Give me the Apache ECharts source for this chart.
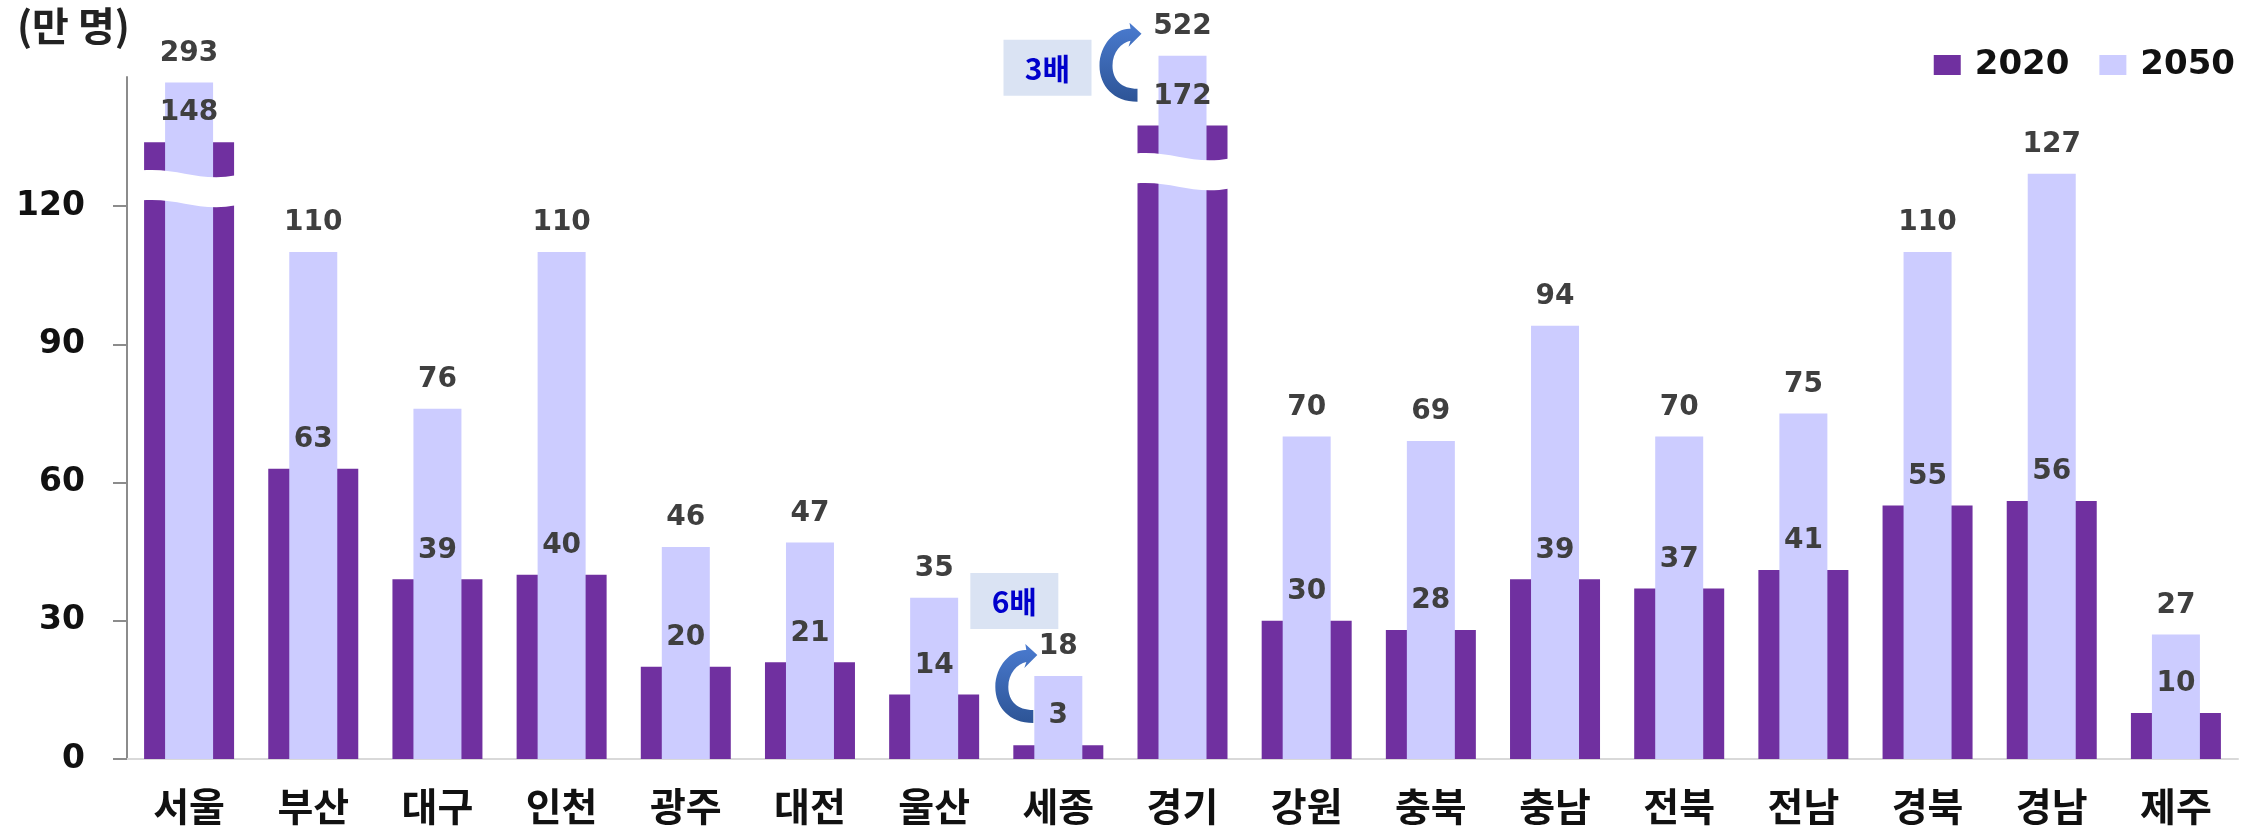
<!DOCTYPE html>
<html>
<head>
<meta charset="utf-8">
<script src="https://cdn.jsdelivr.net/npm/echarts@6/dist/echarts.min.js"></script>
<style>
  html, body { margin: 0; padding: 0; background: #fff; }
  #chart { width: 2267px; height: 827px; }
</style>
</head>
<body>
<div id="chart"></div>
<script>
// Regional population (unit: 10,000 people), 2020 vs 2050
const categories = ['서울', '부산', '대구', '인천', '광주', '대전', '울산', '세종', '경기',
                    '강원', '충북', '충남', '전북', '전남', '경북', '경남', '제주'];
const pop2020 = [148, 63, 39, 40, 20, 21, 14, 3, 172, 30, 28, 39, 37, 41, 55, 56, 10];
const pop2050 = [293, 110, 76, 110, 46, 47, 35, 18, 522, 70, 69, 94, 70, 75, 110, 127, 27];
const yTicks = [0, 30, 60, 90, 120];
const seriesNames = ['2020', '2050'];
const growthNotes = ['3배', '6배'];

// Values above the break are squeezed toward a ceiling (hyperbolic compression),
// and the bar is cut by a wavy white band to show the broken axis.
const BREAK_AT = 130;
const BREAK_CEIL = 160;
const BREAK_K = 3870;
function toAxis(v) {
  return v <= BREAK_AT ? v : BREAK_CEIL - BREAK_K / v;
}

const C2020 = '#7030A0';
const C2050 = '#CCCCFF';
const LABEL_GRAY = '#3f3f3f';
const NUM_FONT = '"DejaVu Sans", Verdana, sans-serif';
const KR_FONT = '"Noto Sans CJK KR", "Noto Sans", sans-serif';

// categories whose bars run past the break
const brokenIdx = categories.map((c, i) => i)
  .filter(i => Math.max(pop2020[i], pop2050[i]) > BREAK_AT);
const breakBands = brokenIdx.map(i => [i, toAxis(Math.min(pop2020[i], pop2050[i])) - 10]);

// growth notes: box and curved arrow placed next to the 2050 bar
const noteCats = [categories.indexOf('경기'), categories.indexOf('세종')];
const noteLayout = [
  { arrow: [-41, -22], box: [-179, -16] },
  { arrow: [-21, -21], box: [-88, -103] }
];

const chart = echarts.init(document.getElementById('chart'), null, { renderer: 'canvas' });

function wavePath(cx, cy, hw, half) {
  const l = cx - hw, r = cx + hw, w = 2 * hw;
  const t = cy - half, b = cy + half;
  return 'M' + l + ',' + (t - 3) +
    ' C' + (l + 0.4 * w) + ',' + (t - 6) + ' ' + (l + 0.6 * w) + ',' + (t + 9) + ' ' + r + ',' + (t + 2) +
    ' L' + r + ',' + (b + 2) +
    ' C' + (l + 0.6 * w) + ',' + (b + 9) + ' ' + (l + 0.4 * w) + ',' + (b - 6) + ' ' + l + ',' + (b - 3) +
    ' Z';
}

// curved arrow, tip at the local origin, pointing right
const ARROW_PATH = 'M0,0 L-12,-11 L-11,-5 C-25,-6 -42,10 -42,32 C-42,52 -28,68 -4,68 ' +
                   'L-4,55 C-20,55 -29,46 -29,32 C-29,18 -20,9 -11,7 L-13,13 Z';
const arrowFill = {
  type: 'linear', x: 0, y: 0, x2: 0, y2: 1,
  colorStops: [{ offset: 0, color: '#4A7BD0' }, { offset: 1, color: '#2D5496' }]
};

const valueLabel = {
  show: true, position: 'top', distance: 15, opacity: 1,
  fontFamily: NUM_FONT, fontWeight: 'bold', fontSize: 28, color: LABEL_GRAY,
  textBorderWidth: 0
};

const option = {
  animation: false,
  backgroundColor: '#ffffff',
  title: {
    text: '(만 명)', left: 12, top: 1,
    textStyle: { fontFamily: KR_FONT, fontWeight: 'bold', fontSize: 40, color: '#222' }
  },
  legend: {
    data: seriesNames, right: 27, top: 43,
    icon: 'rect', itemWidth: 27, itemHeight: 20, itemGap: 30,
    textStyle: { fontFamily: NUM_FONT, fontWeight: 'bold', fontSize: 34, color: '#111', padding: [0, 0, 0, 9] }
  },
  grid: { left: 127, right: 29, top: 77, bottom: 68 },
  xAxis: [
    {
      type: 'category', data: categories,
      axisLine: { lineStyle: { color: '#d9d9d9', width: 2 } },
      axisTick: { show: false },
      axisLabel: { fontFamily: KR_FONT, fontWeight: 'bold', fontSize: 39, color: '#111', margin: 28, interval: 0 }
    },
    { type: 'category', data: categories, show: false },
    { type: 'category', data: categories, show: false }
  ],
  yAxis: {
    type: 'value', min: 0, max: 148,
    splitLine: { show: false },
    axisLine: { show: true, lineStyle: { color: '#8c8c8c', width: 2 } },
    axisTick: { show: true, length: 14, customValues: yTicks, lineStyle: { color: '#8c8c8c', width: 2 } },
    axisLabel: {
      customValues: yTicks, margin: 42,
      fontFamily: NUM_FONT, fontWeight: 'bold', fontSize: 33, color: '#111'
    }
  },
  series: [
    {
      name: seriesNames[0], type: 'bar', xAxisIndex: 0, z: 2, clip: false,
      barWidth: 90, itemStyle: { color: C2020 },
      data: pop2020.map(toAxis)
    },
    {
      name: seriesNames[1], type: 'bar', xAxisIndex: 1, z: 3, clip: false,
      barWidth: 48, itemStyle: { color: C2050 },
      data: pop2050.map(toAxis),
      label: Object.assign({}, valueLabel, { formatter: p => String(pop2050[p.dataIndex]) })
    },
    {
      // wavy white band across bars that pass the break
      type: 'custom', xAxisIndex: 0, z: 4, clip: false, silent: true,
      data: breakBands,
      renderItem: function (params, api) {
        const pt = api.coord([api.value(0), api.value(1)]);
        const band = api.size([1, 0])[0];
        return {
          type: 'path',
          shape: { pathData: wavePath(pt[0], pt[1], band * 0.38, 15) },
          style: { fill: '#ffffff' }
        };
      }
    },
    {
      // 2020 value labels, drawn above the 2050 bars
      name: 'label2020', type: 'bar', xAxisIndex: 2, z: 6, clip: false,
      barWidth: 90, itemStyle: { color: 'rgba(0,0,0,0)' },
      silent: true, legendHoverLink: false,
      data: pop2020.map(toAxis),
      label: Object.assign({}, valueLabel, { formatter: p => String(pop2020[p.dataIndex]) })
    },
    {
      // growth notes
      type: 'custom', xAxisIndex: 0, z: 8, clip: false, silent: true,
      data: noteCats.map(i => [i, toAxis(pop2050[i])]),
      renderItem: function (params, api) {
        const pt = api.coord([api.value(0), api.value(1)]);
        const lay = noteLayout[params.dataIndex];
        const bx = pt[0] + lay.box[0], by = pt[1] + lay.box[1];
        return {
          type: 'group',
          children: [
            { type: 'rect', shape: { x: bx, y: by, width: 88, height: 56 }, style: { fill: '#DAE3F3' } },
            { type: 'text', x: bx + 44, y: by + 29, style: {
                text: growthNotes[params.dataIndex], fill: '#0000CC', font: 'bold 30px ' + KR_FONT,
                align: 'center', verticalAlign: 'middle' } },
            { type: 'path', x: pt[0] + lay.arrow[0], y: pt[1] + lay.arrow[1],
              shape: { pathData: ARROW_PATH }, style: { fill: arrowFill } }
          ]
        };
      }
    }
  ]
};

chart.setOption(option);
</script>
</body>
</html>
